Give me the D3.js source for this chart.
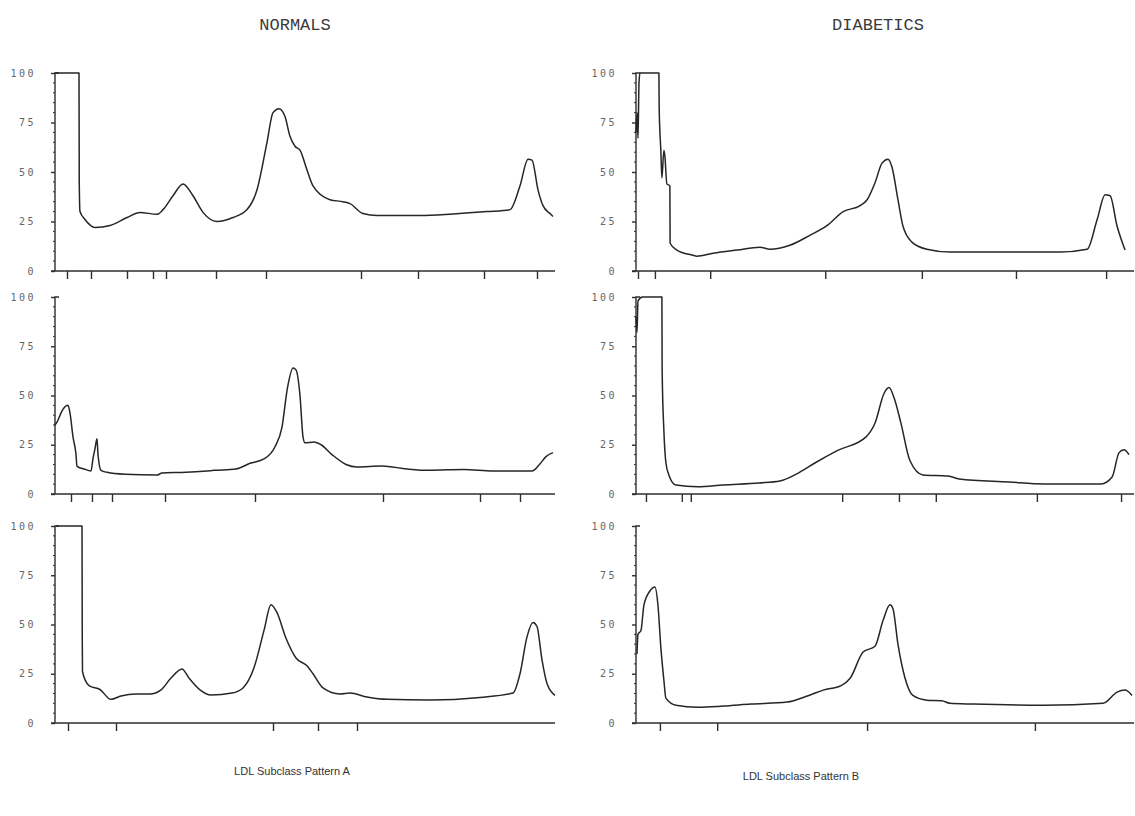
<!DOCTYPE html>
<html>
<head>
<meta charset="utf-8">
<script src="https://cdn.jsdelivr.net/npm/d3@7/dist/d3.min.js"></script>
<style>
  body { margin: 0; background: #fff; }
  .traza { fill: none; stroke: #262626; stroke-width: 1.5; stroke-linejoin: round; }
  .eje line, .eje path { stroke: #2e2e2e; stroke-width: 1.4; }
  .etiqueta { font-family: "DejaVu Sans Mono", monospace; font-size: 10px; fill: #666; letter-spacing: 2.5px; }
</style>
</head>
<body>
<svg class="lienzo" width="1135" height="816"></svg>
<script>
// Trazas densitometricas: [distancia de migracion (0-100), absorbancia %]
var normal1 = [[0,100],[4.8,100],[4.85,45],[5,30],[6,26],[8,22],[11,23],[14.4,27],[17,29.6],[20.4,28.6],[21.6,31],
  [23.6,38],[25.6,44],[27.6,38],[29.6,29.6],[32.4,25],[35.6,27],[38.4,31],[40.4,41],[42.4,65],[43.6,80],[44.8,82],
  [46,78],[47,68],[48,63],[49,61],[50.4,51],[51.6,43],[55,36],[57.6,35],[59,34],[61.6,29],[64.4,28],[73,28],
  [79.6,28.8],[86.4,30],[91,31],[93,43],[94.6,56.5],[95.4,56],[96.6,41],[97.6,33],[99,29],[99.6,27.5]];

var normal2 = [[0,35],[0.4,36.5],[1.5,42.6],[2.6,45],[3,41],[3.6,29],[4.2,20],[4.4,14],[5.8,12.7],[7.2,11.7],
  [7.6,18],[8,23],[8.4,28],[8.6,20],[9.2,12],[10.4,11],[14,10],[20.4,9.6],[21.4,10.7],[26.2,11],[30.4,11.7],
  [31.8,12],[36.2,12.7],[39,15.6],[41.8,17.8],[44,24],[45.4,34],[46.5,54],[47.6,64],[48.2,63],[49,50],[49.6,29],
  [50,26],[51.8,26.4],[53.2,25],[55.4,20],[58.2,15],[60.4,13.7],[65.4,14.2],[70.4,12.7],[74.8,12],[81.8,12.5],
  [87.6,11.7],[95.4,11.7],[96.8,14.7],[98.2,19],[99.6,21]];

var normal3 = [[0.2,100],[5.4,100],[5.45,44],[5.5,26],[6.8,19],[9,17],[11.2,12],[13.2,13.7],[16.2,14.7],[19,14.7],
  [21.2,16.8],[23.2,22.8],[25.4,27.4],[26.8,22.8],[29,16.8],[31.2,14.2],[35.4,15.2],[37.6,17.8],[39.8,28],
  [41.8,47],[43.2,60],[44.4,56],[46.2,43],[48.2,33],[50.4,29],[51.6,25],[53.6,17.8],[57,14.7],[59,15.2],
  [62.4,13.2],[66.4,12],[75,11.7],[85,13],[91.6,15.2],[93,25],[94.4,43.7],[95.6,51],[96.4,49],[97.4,32],
  [98.4,20],[100,14]];

var diabetico1 = [[0,70],[0.2,80],[0.4,67],[0.6,95],[0.8,100],[4.6,100],[4.65,83],[5,60],[5.2,47],[5.6,61],
  [5.8,58],[6.2,44],[6.8,43],[6.85,14],[8.2,10.6],[11.4,8],[12.2,7.5],[15.5,9],[20.3,10.6],[24.9,12],[26.9,11],
  [30.9,13],[34.9,18],[38.4,23],[41.6,30],[45,33],[46.4,36],[48,44.6],[49.4,54.5],[50.6,56.5],[51.4,52.5],
  [52.6,36],[53.6,22.7],[55.4,14.6],[58.4,11],[63,9.6],[85.1,9.6],[90.6,11],[92.6,26],[94.2,38.5],[95.2,38],
  [96.6,22.7],[98.2,10.6]];

var diabetico2 = [[0,90],[0.2,82],[0.4,98],[1.3,100],[5.2,100],[5.25,63],[5.6,32],[6,16],[6.6,9.7],[8,4.6],
  [12.4,3.7],[17.5,4.6],[24.7,5.6],[28.9,6.6],[32.5,10.5],[36.1,16],[40.4,22],[46.2,29],[48,36],[49.8,51],
  [50.8,54],[51.8,49],[53.2,36],[55,17],[57.6,9.7],[62.7,9.1],[64.9,7.6],[74.9,6.1],[81.9,5.1],[93.4,5.1],
  [95.6,8.6],[97,21],[98,22.5],[99,20]];

var diabetico3 = [[0.2,35],[0.4,45],[1,47],[1.6,60],[2.8,67],[3.8,69],[4.4,60],[5,38],[5.6,21.7],[6,12.6],
  [8,9],[12.4,8],[17.5,8.6],[23.1,9.6],[30.3,10.6],[34.7,14],[37.6,16.7],[41.2,19],[43,22.7],[45.6,36],
  [48,39],[49.6,52],[51,60],[51.6,58],[52.6,40],[54,23],[55.6,14],[58.4,11.6],[61.4,11.3],[63,10],[67.7,9.6],
  [81.9,9],[93.8,10],[96.6,15.7],[98.2,16.7],[99.6,14]];

// Marcas del eje x de cada traza (posiciones de las bandas)
var marcasN1 = [2.4, 7.2, 14.4, 19.6, 22.2, 32.2, 42.2, 61.2, 72.6, 85.8, 96.4];
var marcasN2 = [3.2, 7.4, 11.4, 22, 40, 65.6, 85, 93];
var marcasN3 = [2.6, 12.2, 43.6, 52.6, 60.4];
var marcasD1 = [0.4, 3.8, 14.9, 38, 57.4, 76.3, 94.4];
var marcasD2 = [2, 9.2, 11, 41.4, 52.8, 60.2, 80.5, 97.4];
var marcasD3 = [4.8, 16.3, 46.4, 80.1];

var valoresY = [0, 25, 50, 75, 100];
var titulos = ["NORMALS", "DIABETICS"];
var pies = ["LDL Subclass Pattern A", "LDL Subclass Pattern B"];

var svg = d3.select(".lienzo");

// columnas (x) y filas (y) en pixeles
var columnas = [[55, 555], [636, 1134]];
var filas = [[271, 73], [494, 297], [723, 526]];

var paneles = [
  { datos: normal1, marcas: marcasN1, col: 0, fila: 0 },
  { datos: normal2, marcas: marcasN2, col: 0, fila: 1 },
  { datos: normal3, marcas: marcasN3, col: 0, fila: 2 },
  { datos: diabetico1, marcas: marcasD1, col: 1, fila: 0 },
  { datos: diabetico2, marcas: marcasD2, col: 1, fila: 1 },
  { datos: diabetico3, marcas: marcasD3, col: 1, fila: 2 }
];

paneles.forEach(function(p) {
  var x = d3.scaleLinear().domain([0, 100]).range(columnas[p.col]);
  var y = d3.scaleLinear().domain([0, 100]).range(filas[p.fila]);
  var g = svg.append("g");

  // eje x con marcas hacia abajo
  g.append("g")
    .attr("class", "eje")
    .attr("transform", "translate(0," + y(0) + ")")
    .call(d3.axisBottom(x).tickValues(p.marcas).tickSize(8).tickFormat(""))
    .call(function(s) {
      s.select(".domain").attr("d", "M" + (x(0) - 4) + ",0H" + x(100));
    });

  // eje y
  var ejeY = g.append("g")
    .attr("class", "eje")
    .attr("transform", "translate(" + x(0) + ",0)")
    .call(d3.axisLeft(y).tickValues(valoresY).tickSize(4).tickFormat(""));
  ejeY.select(".domain").attr("d", "M0," + y(0) + "V" + y(100) + "h4");

  // marcas menores cada 5
  ejeY.selectAll(".menor")
    .data(d3.range(5, 100, 5).filter(function(v) { return v % 25 != 0; }))
    .enter()
    .append("line")
    .attr("class", "menor")
    .attr("x1", -2)
    .attr("x2", 0)
    .attr("y1", function(d) { return y(d); })
    .attr("y2", function(d) { return y(d); })
    .style("stroke-width", 1);

  g.selectAll(".etiqueta")
    .data(valoresY)
    .enter()
    .append("text")
    .attr("class", "etiqueta")
    .attr("x", x(0) - 19)
    .attr("y", function(d) { return y(d) + 3.5; })
    .attr("text-anchor", "end")
    .text(function(d) { return d; });

  // monotona para no pasarse en las mesetas
  g.append("path")
    .datum(p.datos)
    .attr("class", "traza")
    .attr("d", d3.line()
      .curve(d3.curveMonotoneX)
      .x(function(d) { return x(d[0]); })
      .y(function(d) { return y(d[1]); }));
});

// titulos de columna
svg.selectAll(".titulo")
  .data(titulos)
  .enter()
  .append("text")
  .attr("class", "titulo")
  .attr("x", function(d, i) { return i == 0 ? 295 : 878; })
  .attr("y", 30)
  .attr("text-anchor", "middle")
  .style("font-family", "'Liberation Mono', monospace")
  .style("font-size", "17px")
  .style("fill", "#3a3a3a")
  .text(function(d) { return d; });

// pies
svg.selectAll(".pie")
  .data(pies)
  .enter()
  .append("text")
  .attr("class", "pie")
  .attr("x", function(d, i) { return i == 0 ? 292 : 801; })
  .attr("y", function(d, i) { return i == 0 ? 775 : 780; })
  .attr("text-anchor", "middle")
  .style("font-family", "'Liberation Sans', Arial, sans-serif")
  .style("font-size", "11px")
  .style("fill", "#333")
  .text(function(d) { return d; });
</script>
</body>
</html>
